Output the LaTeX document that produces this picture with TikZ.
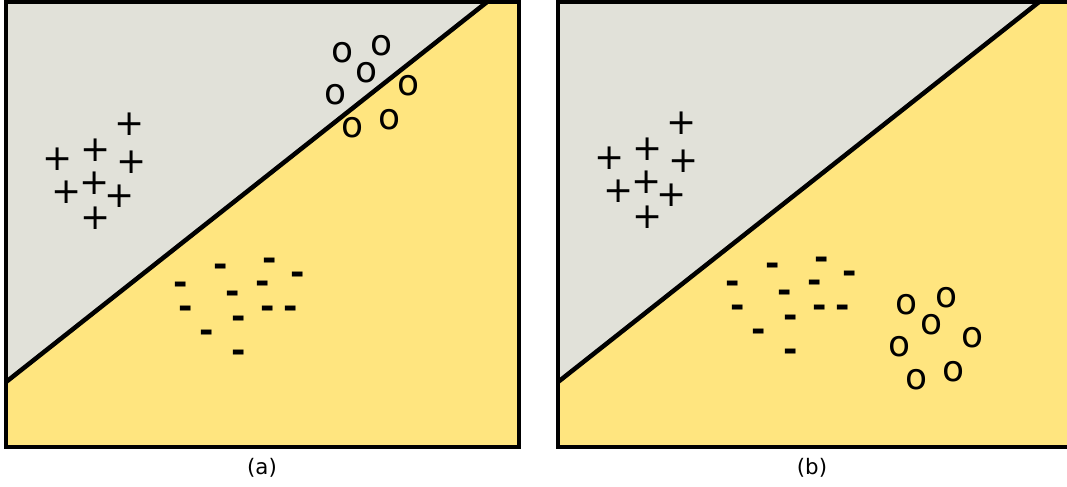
\documentclass[tikz,border=0pt]{standalone}
\usepackage{fontspec}
\setmainfont{DejaVu Sans}
\usetikzlibrary{positioning}
\definecolor{sepgray}{HTML}{E1E1D9}
\definecolor{sepyellow}{HTML}{FFE57F}

\begin{document}
\begin{tikzpicture}[x=0.75pt,y=-0.75pt,
  sym/.style={inner sep=0pt,font=\fontsize{27}{27}\selectfont},
  neg/.style={sym,font=\bfseries\fontsize{26}{26}\selectfont,yshift=-2.5pt},
  caplabel/.style={inner sep=0pt,font=\fontsize{16}{16}\selectfont},
  frame/.style={line width=2.4pt},
  boundary/.style={line width=3.4pt}]
\useasboundingbox (0,0) rectangle (1067,486);
\begin{scope}
\clip (0,0) rectangle (1067,486);
% panel (a)
\fill[sepgray] (6,2) rectangle (519,447);
\fill[sepyellow] (6,382) -- (487,2) -- (519,2) -- (519,447) -- (6,447) -- cycle;
\draw[boundary] (6,382) -- (487,2);
\draw[frame] (6,2) rectangle (519,447);
% panel (b)
\fill[sepgray] (558,2) rectangle (1072,447);
\fill[sepyellow] (558,382) -- (1039,2) -- (1072,2) -- (1072,447) -- (558,447) -- cycle;
\draw[boundary] (558,382) -- (1039,2);
\draw[frame] (558,2) rectangle (1072,447);
\end{scope}
% positive class
\foreach \x/\y [count=\i] in {130/124,96/150,58/159,132/162,95/183,67/192,120/196,96/218}{
  \node[sym] (posA\i) at (\x,\y) {+};
  \node[sym] (posB\i) at (\x+552,\y-1) {+};
}
% negative class
\foreach \x/\y [count=\i] in {221/267,270/261,298/275,181/285,263/284,233/294,
  186/309,268/309,291/309,239/319,207/333,239/353}{
  \node[neg] (negA\i) at (\x,\y) {-};
  \node[neg] (negB\i) at (\x+552,\y-1) {-};
}
% third class, moved in (b)
\foreach \x/\y [count=\i] in {343/53,382/46,367/73,336/95,409/86,353/128,390/120}{
  \node[sym] (oA\i) at (\x,\y) {o};
  \node[sym] (oB\i) at (\x+564,\y+252) {o};
}
% captions
\node[caplabel] (capA) at (262,468) {(a)};
\node[caplabel] (capB) at (812,468) {(b)};
\end{tikzpicture}
\end{document}
